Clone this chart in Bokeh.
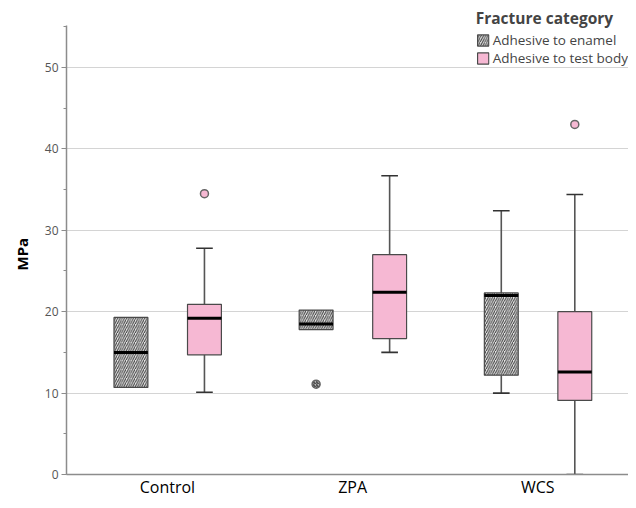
from bokeh.plotting import figure
from bokeh.models import Range1d, FixedTicker, SingleIntervalTicker, Legend, LegendItem, ColumnDataSource, Title
from bokeh.embed import file_html
from bokeh.resources import INLINE

categories = ["Control", "ZPA", "WCS"]

enamel_q1 = [10.7, 17.8, 12.2]
enamel_med = [15.0, 18.5, 22.0]
enamel_q3 = [19.3, 20.2, 22.3]
enamel_lo = [10.7, 17.8, 10.0]
enamel_hi = [19.3, 20.2, 32.4]
enamel_out_cat = ["ZPA"]
enamel_out = [11.1]

test_q1 = [14.7, 16.7, 9.1]
test_med = [19.2, 22.4, 12.6]
test_q3 = [20.9, 27.0, 20.0]
test_lo = [10.1, 15.0, 0.0]
test_hi = [27.8, 36.7, 34.4]
test_out_cat = ["Control", "WCS"]
test_out = [34.5, 43.0]

y_ticks = [0, 10, 20, 30, 40, 50]

FONT = "Open Sans"
PINK = "#f6b8d3"
EDGE = "#4a4a4a"
BOX_W = 0.183
CAP_W = 0.09
OFF_E = -0.197
OFF_T = 0.2
Y_AXIS_TOP = 55.2

idx = {c: i + 0.5 for i, c in enumerate(categories)}

p = figure(width=628, height=500, output_backend="svg", toolbar_location=None,
           x_range=Range1d(-0.045, 2.99), y_range=Range1d(0, 57.37),
           min_border_left=65, min_border_right=0, min_border_top=7, min_border_bottom=0)
p.outline_line_color = None
p.background_fill_color = "white"

def draw(offset, q1, med, q3, lo, hi, out_cat, out, fill, hatch):
    xs = [idx[c] + offset for c in categories]
    for x, a, b, l, h in zip(xs, q1, q3, lo, hi):
        if h > b:
            p.segment(x0=[x], y0=[b], x1=[x], y1=[h], line_color="#555555", line_width=1.6)
            p.segment(x0=[x - CAP_W / 2], y0=[h], x1=[x + CAP_W / 2], y1=[h], line_color="#333333", line_width=1.6)
        if l < a:
            p.segment(x0=[x], y0=[l], x1=[x], y1=[a], line_color="#555555", line_width=1.6)
            p.segment(x0=[x - CAP_W / 2], y0=[l], x1=[x + CAP_W / 2], y1=[l], line_color="#333333", line_width=1.6)
    src = ColumnDataSource(dict(x=xs, bottom=q1, top=q3))
    kw = dict(fill_color=fill, line_color=EDGE, line_width=1.2)
    if hatch:
        kw.update(hatch_pattern="/", hatch_color="#3a3a3a", hatch_scale=4.5, hatch_weight=1.0)
    r = p.vbar(x="x", bottom="bottom", top="top", width=BOX_W, source=src, **kw)
    p.segment(x0=[x - BOX_W / 2 for x in xs], y0=med, x1=[x + BOX_W / 2 for x in xs], y1=med,
              line_color="black", line_width=3)
    ox = [idx[c] + offset for c in out_cat]
    okw = dict(fill_color=fill, line_color="#666666", line_width=1.5, size=8)
    if hatch:
        okw.update(fill_color="#bbbbbb", hatch_pattern="/", hatch_color="#333333", hatch_scale=3)
    p.scatter(x=ox, y=out, **okw)
    return r

r_e = draw(OFF_E, enamel_q1, enamel_med, enamel_q3, enamel_lo, enamel_hi, enamel_out_cat, enamel_out, "#e8e8e8", True)
r_t = draw(OFF_T, test_q1, test_med, test_q3, test_lo, test_hi, test_out_cat, test_out, PINK, False)

p.xaxis.ticker = FixedTicker(ticks=[idx[c] for c in categories])
p.xaxis.major_label_overrides = {idx[c]: c for c in categories}
p.xaxis.major_tick_line_color = None
p.xaxis.major_tick_out = 0
p.xaxis.major_tick_in = 0
p.xaxis.minor_tick_line_color = None
p.xaxis.minor_tick_out = 0
p.xaxis.axis_line_color = "#8c8c8c"
p.xaxis.axis_line_width = 1.5
p.xaxis.major_label_text_font = FONT
p.xaxis.major_label_text_font_size = "16px"
p.xaxis.major_label_text_color = "black"
p.xaxis.major_label_standoff = 1

p.yaxis.ticker = SingleIntervalTicker(interval=10, num_minor_ticks=2)
p.yaxis.bounds = (0, Y_AXIS_TOP)
p.yaxis.axis_line_color = "#8c8c8c"
p.yaxis.axis_line_width = 1.5
p.yaxis.major_tick_line_color = "#8c8c8c"
p.yaxis.minor_tick_line_color = "#8c8c8c"
p.yaxis.major_tick_in = 0
p.yaxis.major_tick_out = 5
p.yaxis.minor_tick_in = 0
p.yaxis.minor_tick_out = 3
p.yaxis.major_label_text_font = FONT
p.yaxis.major_label_text_font_size = "12px"
p.yaxis.major_label_text_color = "#555555"
p.yaxis.major_label_standoff = 3

p.add_layout(Title(text="MPa", align="left", offset=204, standoff=19,
                   text_font=FONT, text_font_style="bold", text_font_size="15px",
                   text_color="black"), "left")

p.xgrid.grid_line_color = None
p.ygrid.ticker = FixedTicker(ticks=y_ticks[1:])
p.ygrid.grid_line_color = "#d4d4d4"
p.ygrid.grid_line_width = 1.2

legend = Legend(items=[LegendItem(label="Adhesive to enamel", renderers=[r_e]),
                       LegendItem(label="Adhesive to test body", renderers=[r_t])],
                location="top_right", title="Fracture category")
legend.title_text_font = FONT
legend.title_text_font_style = "bold"
legend.title_text_font_size = "15.5px"
legend.title_standoff = 2
legend.label_text_font = FONT
legend.label_text_font_size = "13.5px"
legend.glyph_width = 14
legend.glyph_height = 14
legend.label_height = 14
legend.label_standoff = 3
legend.spacing = 0
legend.padding = 2
legend.margin = 0
legend.border_line_color = None
legend.background_fill_alpha = 0
p.add_layout(legend, "center")

open("out.html", "w").write(file_html(p, INLINE))
